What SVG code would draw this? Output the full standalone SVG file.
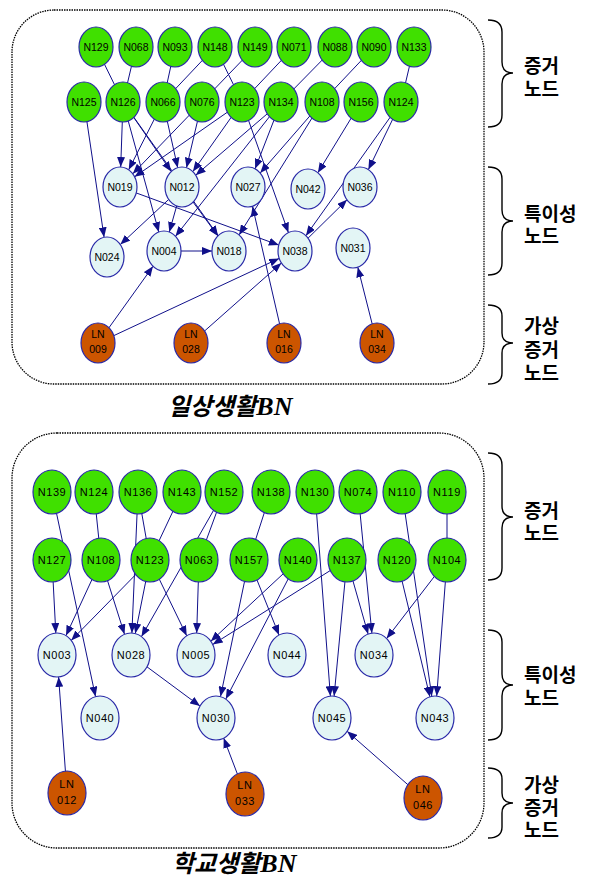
<svg xmlns="http://www.w3.org/2000/svg" width="596" height="881" viewBox="0 0 596 881">
<style>
.panel{fill:none;stroke:#000;stroke-width:1.3;stroke-dasharray:1.5 1}
.ev{fill:#40e000;stroke:#2a2aa8;stroke-width:1.2}
.sp{fill:#e3f5f5;stroke:#2a2aa8;stroke-width:1.2}
.ln{fill:#cc5500;stroke:#2a2aa8;stroke-width:1.2}
.t{font-family:"Liberation Sans",Arial,sans-serif;font-size:10.5px;text-anchor:middle;fill:#000}
.tb{font-family:"Liberation Sans",Arial,sans-serif;font-size:11px;text-anchor:middle;fill:#000;letter-spacing:0.6px}
.e{stroke:#10108a;stroke-width:1;fill:none}
.a{stroke:#10108a;stroke-width:1;fill:none;marker-end:url(#ah)}
.br{fill:none;stroke:#000;stroke-width:1.4}
.lab{font-family:"Liberation Sans","Noto Sans CJK KR",sans-serif;font-weight:bold;font-size:19px;fill:#000}
.title{font-family:"Noto Sans CJK KR",sans-serif;font-weight:bold;font-style:italic;fill:#000}
.bn{font-family:"Liberation Serif",serif;font-weight:bold;font-style:italic}
</style>
<defs>
<marker id="ah" markerUnits="userSpaceOnUse" markerWidth="11" markerHeight="8" refX="10" refY="4" orient="auto">
<path d="M0,0 L10,4 L0,8 z" fill="#10108a"/>
</marker>
</defs>

<rect class="panel" x="12" y="10" width="472" height="374" rx="42" ry="42"/>
<rect class="panel" x="12" y="433" width="472" height="415" rx="45" ry="45"/>

<g id="connectors">
<line class="e" x1="96" y1="47" x2="123" y2="102"/>
<line class="e" x1="136" y1="47" x2="123" y2="102"/>
<line class="e" x1="175" y1="47" x2="163" y2="102"/>
<line class="e" x1="215" y1="47" x2="163" y2="102"/>
<line class="e" x1="215" y1="47" x2="242" y2="102"/>
<line class="e" x1="255" y1="47" x2="202" y2="102"/>
<line class="e" x1="294" y1="47" x2="242" y2="102"/>
<line class="e" x1="335" y1="47" x2="281" y2="102"/>
<line class="e" x1="374" y1="47" x2="322" y2="102"/>
<line class="e" x1="414" y1="47" x2="401" y2="102"/>
<line class="a" x1="84" y1="102" x2="104.1" y2="237.3"/>
<line class="a" x1="123" y1="102" x2="120.7" y2="167"/>
<line class="a" x1="123" y1="102" x2="171.2" y2="171.5"/>
<line class="a" x1="123" y1="102" x2="158.8" y2="232"/>
<line class="a" x1="123" y1="102" x2="218.1" y2="235.7"/>
<line class="a" x1="163" y1="102" x2="128.7" y2="169.8"/>
<line class="a" x1="163" y1="102" x2="177.7" y2="167.7"/>
<line class="a" x1="202" y1="102" x2="132.8" y2="173.8"/>
<line class="a" x1="202" y1="102" x2="186.5" y2="167.7"/>
<line class="a" x1="242" y1="102" x2="134.6" y2="176.8"/>
<line class="a" x1="242" y1="102" x2="192.9" y2="171.6"/>
<line class="a" x1="242" y1="102" x2="288.4" y2="232.6"/>
<line class="a" x1="281" y1="102" x2="195.7" y2="175.2"/>
<line class="a" x1="281" y1="102" x2="255.1" y2="168.8"/>
<line class="a" x1="281" y1="102" x2="175.5" y2="236.3"/>
<line class="a" x1="322" y1="102" x2="260.2" y2="173"/>
<line class="a" x1="322" y1="102" x2="239.1" y2="234.9"/>
<line class="a" x1="361" y1="102" x2="317.9" y2="172.7"/>
<line class="a" x1="401" y1="102" x2="368.4" y2="169.6"/>
<line class="a" x1="401" y1="102" x2="305.9" y2="235.7"/>
<line class="a" x1="295" y1="251" x2="347" y2="199.8"/>
<line class="a" x1="120" y1="187" x2="278.8" y2="245.1"/>
<line class="a" x1="182" y1="187" x2="169.3" y2="232"/>
<line class="a" x1="182" y1="187" x2="120.3" y2="244.6"/>
<line class="a" x1="182" y1="187" x2="217.9" y2="235.9"/>
<line class="a" x1="181" y1="251" x2="212" y2="251"/>
<line class="a" x1="284" y1="343" x2="252.5" y2="206.3"/>
<line class="a" x1="98" y1="343" x2="153" y2="266.3"/>
<line class="a" x1="98" y1="343" x2="279.2" y2="258.4"/>
<line class="a" x1="191" y1="343" x2="281.4" y2="263"/>
<line class="a" x1="377" y1="343" x2="357.8" y2="267.2"/>

<line class="e" x1="94" y1="492" x2="101" y2="560"/>
<line class="e" x1="138" y1="492" x2="150" y2="560"/>
<line class="e" x1="182" y1="492" x2="150" y2="560"/>
<line class="e" x1="224" y1="492" x2="199" y2="560"/>
<line class="e" x1="271" y1="492" x2="249" y2="560"/>
<line class="e" x1="447" y1="492" x2="447" y2="560"/>
<line class="a" x1="52" y1="560" x2="55.8" y2="633"/>
<line class="a" x1="101" y1="560" x2="66" y2="635.6"/>
<line class="a" x1="150" y1="560" x2="71.2" y2="640.4"/>
<line class="a" x1="52" y1="492" x2="95.5" y2="696.6"/>
<line class="a" x1="101" y1="560" x2="124.5" y2="634.3"/>
<line class="a" x1="138" y1="492" x2="131.9" y2="633"/>
<line class="a" x1="150" y1="560" x2="135.3" y2="633.6"/>
<line class="a" x1="224" y1="492" x2="141.5" y2="636.6"/>
<line class="a" x1="199" y1="560" x2="196.7" y2="633"/>
<line class="a" x1="150" y1="560" x2="186.7" y2="635.8"/>
<line class="a" x1="298" y1="560" x2="210.8" y2="641.2"/>
<line class="a" x1="347" y1="560" x2="212.7" y2="644.5"/>
<line class="a" x1="249" y1="560" x2="279" y2="635"/>
<line class="a" x1="249" y1="560" x2="220.5" y2="696.6"/>
<line class="a" x1="298" y1="560" x2="225.8" y2="699.1"/>
<line class="a" x1="131" y1="655" x2="200" y2="706.1"/>
<line class="a" x1="315" y1="492" x2="330.4" y2="696.1"/>
<line class="a" x1="347" y1="560" x2="334.1" y2="696.1"/>
<line class="a" x1="358" y1="492" x2="371.9" y2="633.1"/>
<line class="a" x1="347" y1="560" x2="368.1" y2="634.1"/>
<line class="a" x1="447" y1="560" x2="386.6" y2="638.6"/>
<line class="a" x1="402" y1="492" x2="431.8" y2="696.3"/>
<line class="a" x1="397" y1="560" x2="429.9" y2="696.8"/>
<line class="a" x1="447" y1="560" x2="436.7" y2="696.1"/>
<line class="a" x1="67" y1="793" x2="58.6" y2="676.9"/>
<line class="a" x1="245" y1="794" x2="223.7" y2="738.1"/>
<line class="a" x1="423" y1="798" x2="347.1" y2="731.3"/>
</g>

<g id="N129"><ellipse class="ev" cx="96" cy="47" rx="17" ry="20"/><text class="t" x="96" y="51">N129</text></g>
<g id="N068"><ellipse class="ev" cx="136" cy="47" rx="17" ry="20"/><text class="t" x="136" y="51">N068</text></g>
<g id="N093"><ellipse class="ev" cx="175" cy="47" rx="17" ry="20"/><text class="t" x="175" y="51">N093</text></g>
<g id="N148"><ellipse class="ev" cx="215" cy="47" rx="17" ry="20"/><text class="t" x="215" y="51">N148</text></g>
<g id="N149"><ellipse class="ev" cx="255" cy="47" rx="17" ry="20"/><text class="t" x="255" y="51">N149</text></g>
<g id="N071"><ellipse class="ev" cx="294" cy="47" rx="17" ry="20"/><text class="t" x="294" y="51">N071</text></g>
<g id="N088"><ellipse class="ev" cx="335" cy="47" rx="17" ry="20"/><text class="t" x="335" y="51">N088</text></g>
<g id="N090"><ellipse class="ev" cx="374" cy="47" rx="17" ry="20"/><text class="t" x="374" y="51">N090</text></g>
<g id="N133"><ellipse class="ev" cx="414" cy="47" rx="17" ry="20"/><text class="t" x="414" y="51">N133</text></g>

<g id="N125"><ellipse class="ev" cx="84" cy="102" rx="17" ry="20"/><text class="t" x="84" y="106">N125</text></g>
<g id="N126"><ellipse class="ev" cx="123" cy="102" rx="17" ry="20"/><text class="t" x="123" y="106">N126</text></g>
<g id="N066"><ellipse class="ev" cx="163" cy="102" rx="17" ry="20"/><text class="t" x="163" y="106">N066</text></g>
<g id="N076"><ellipse class="ev" cx="202" cy="102" rx="17" ry="20"/><text class="t" x="202" y="106">N076</text></g>
<g id="N123a"><ellipse class="ev" cx="242" cy="102" rx="17" ry="20"/><text class="t" x="242" y="106">N123</text></g>
<g id="N134"><ellipse class="ev" cx="281" cy="102" rx="17" ry="20"/><text class="t" x="281" y="106">N134</text></g>
<g id="N108a"><ellipse class="ev" cx="322" cy="102" rx="17" ry="20"/><text class="t" x="322" y="106">N108</text></g>
<g id="N156"><ellipse class="ev" cx="361" cy="102" rx="17" ry="20"/><text class="t" x="361" y="106">N156</text></g>
<g id="N124a"><ellipse class="ev" cx="401" cy="102" rx="17" ry="20"/><text class="t" x="401" y="106">N124</text></g>

<g id="N019"><ellipse class="sp" cx="120" cy="187" rx="17" ry="20"/><text class="t" x="120" y="191">N019</text></g>
<g id="N012"><ellipse class="sp" cx="182" cy="187" rx="17" ry="20"/><text class="t" x="182" y="191">N012</text></g>
<g id="N027"><ellipse class="sp" cx="248" cy="187" rx="17" ry="20"/><text class="t" x="248" y="191">N027</text></g>
<g id="N042"><ellipse class="sp" cx="308" cy="189" rx="17" ry="20"/><text class="t" x="308" y="193">N042</text></g>
<g id="N036"><ellipse class="sp" cx="360" cy="187" rx="17" ry="20"/><text class="t" x="360" y="191">N036</text></g>
<g id="N024"><ellipse class="sp" cx="107" cy="257" rx="17" ry="20"/><text class="t" x="107" y="261">N024</text></g>
<g id="N004"><ellipse class="sp" cx="164" cy="251" rx="17" ry="20"/><text class="t" x="164" y="255">N004</text></g>
<g id="N018"><ellipse class="sp" cx="229" cy="251" rx="17" ry="20"/><text class="t" x="229" y="255">N018</text></g>
<g id="N038"><ellipse class="sp" cx="295" cy="251" rx="17" ry="20"/><text class="t" x="295" y="255">N038</text></g>
<g id="N031"><ellipse class="sp" cx="353" cy="248" rx="17" ry="20"/><text class="t" x="353" y="252">N031</text></g>

<g id="LN009"><ellipse class="ln" cx="98" cy="343" rx="17" ry="20"/><text class="t" x="98" y="338">LN</text><text class="t" x="98" y="353">009</text></g>
<g id="LN028"><ellipse class="ln" cx="191" cy="343" rx="17" ry="20"/><text class="t" x="191" y="338">LN</text><text class="t" x="191" y="353">028</text></g>
<g id="LN016"><ellipse class="ln" cx="284" cy="343" rx="17" ry="20"/><text class="t" x="284" y="338">LN</text><text class="t" x="284" y="353">016</text></g>
<g id="LN034"><ellipse class="ln" cx="377" cy="343" rx="17" ry="20"/><text class="t" x="377" y="338">LN</text><text class="t" x="377" y="353">034</text></g>

<g id="N139"><ellipse class="ev" cx="52" cy="492" rx="19" ry="22"/><text class="tb" x="52" y="496">N139</text></g>
<g id="N124b"><ellipse class="ev" cx="94" cy="492" rx="19" ry="22"/><text class="tb" x="94" y="496">N124</text></g>
<g id="N136"><ellipse class="ev" cx="138" cy="492" rx="19" ry="22"/><text class="tb" x="138" y="496">N136</text></g>
<g id="N143"><ellipse class="ev" cx="182" cy="492" rx="19" ry="22"/><text class="tb" x="182" y="496">N143</text></g>
<g id="N152"><ellipse class="ev" cx="224" cy="492" rx="19" ry="22"/><text class="tb" x="224" y="496">N152</text></g>
<g id="N138"><ellipse class="ev" cx="271" cy="492" rx="19" ry="22"/><text class="tb" x="271" y="496">N138</text></g>
<g id="N130"><ellipse class="ev" cx="315" cy="492" rx="19" ry="22"/><text class="tb" x="315" y="496">N130</text></g>
<g id="N074"><ellipse class="ev" cx="358" cy="492" rx="19" ry="22"/><text class="tb" x="358" y="496">N074</text></g>
<g id="N110"><ellipse class="ev" cx="402" cy="492" rx="19" ry="22"/><text class="tb" x="402" y="496">N110</text></g>
<g id="N119"><ellipse class="ev" cx="447" cy="492" rx="19" ry="22"/><text class="tb" x="447" y="496">N119</text></g>

<g id="N127"><ellipse class="ev" cx="52" cy="560" rx="19" ry="22"/><text class="tb" x="52" y="564">N127</text></g>
<g id="N108b"><ellipse class="ev" cx="101" cy="560" rx="19" ry="22"/><text class="tb" x="101" y="564">N108</text></g>
<g id="N123b"><ellipse class="ev" cx="150" cy="560" rx="19" ry="22"/><text class="tb" x="150" y="564">N123</text></g>
<g id="N063"><ellipse class="ev" cx="199" cy="560" rx="19" ry="22"/><text class="tb" x="199" y="564">N063</text></g>
<g id="N157"><ellipse class="ev" cx="249" cy="560" rx="19" ry="22"/><text class="tb" x="249" y="564">N157</text></g>
<g id="N140"><ellipse class="ev" cx="298" cy="560" rx="19" ry="22"/><text class="tb" x="298" y="564">N140</text></g>
<g id="N137"><ellipse class="ev" cx="347" cy="560" rx="19" ry="22"/><text class="tb" x="347" y="564">N137</text></g>
<g id="N120"><ellipse class="ev" cx="397" cy="560" rx="19" ry="22"/><text class="tb" x="397" y="564">N120</text></g>
<g id="N104"><ellipse class="ev" cx="447" cy="560" rx="19" ry="22"/><text class="tb" x="447" y="564">N104</text></g>

<g id="N003"><ellipse class="sp" cx="57" cy="655" rx="19" ry="22"/><text class="tb" x="57" y="659">N003</text></g>
<g id="N028"><ellipse class="sp" cx="131" cy="655" rx="19" ry="22"/><text class="tb" x="131" y="659">N028</text></g>
<g id="N005"><ellipse class="sp" cx="196" cy="655" rx="19" ry="22"/><text class="tb" x="196" y="659">N005</text></g>
<g id="N044"><ellipse class="sp" cx="287" cy="655" rx="19" ry="22"/><text class="tb" x="287" y="659">N044</text></g>
<g id="N034"><ellipse class="sp" cx="374" cy="655" rx="19" ry="22"/><text class="tb" x="374" y="659">N034</text></g>
<g id="N040"><ellipse class="sp" cx="100" cy="718" rx="19" ry="22"/><text class="tb" x="100" y="722">N040</text></g>
<g id="N030"><ellipse class="sp" cx="216" cy="718" rx="19" ry="22"/><text class="tb" x="216" y="722">N030</text></g>
<g id="N045"><ellipse class="sp" cx="332" cy="718" rx="19" ry="22"/><text class="tb" x="332" y="722">N045</text></g>
<g id="N043"><ellipse class="sp" cx="435" cy="718" rx="19" ry="22"/><text class="tb" x="435" y="722">N043</text></g>

<g id="LN012"><ellipse class="ln" cx="67" cy="793" rx="19" ry="22"/><text class="tb" x="67" y="788">LN</text><text class="tb" x="67" y="804">012</text></g>
<g id="LN033"><ellipse class="ln" cx="245" cy="794" rx="19" ry="22"/><text class="tb" x="245" y="789">LN</text><text class="tb" x="245" y="805">033</text></g>
<g id="LN046"><ellipse class="ln" cx="423" cy="798" rx="19" ry="22"/><text class="tb" x="423" y="793">LN</text><text class="tb" x="423" y="809">046</text></g>

<text class="title" x="168" y="415" font-size="24">일상생활<tspan class="bn" font-size="26">BN</tspan></text>
<text class="title" x="172" y="872" font-size="24">학교생활<tspan class="bn" font-size="26">BN</tspan></text>

<path class="br" d="M488,20 Q502,20 502,32 L502,62 Q502,73 513,73 Q502,73 502,84 L502,115 Q502,127 488,127"/>
<path class="br" d="M488,167 Q502,167 502,179 L502,210 Q502,221 513,221 Q502,221 502,232 L502,263 Q502,275 488,275"/>
<path class="br" d="M488,305 Q502,305 502,316 L502,333 Q502,343 513,343 Q502,343 502,353 L502,373 Q502,384 488,384"/>
<path class="br" d="M488,453 Q502,453 502,465 L502,506 Q502,517 513,517 Q502,517 502,528 L502,568 Q502,580 488,580"/>
<path class="br" d="M488,630 Q502,630 502,642 L502,674 Q502,685 513,685 Q502,685 502,696 L502,728 Q502,740 488,740"/>
<path class="br" d="M488,768 Q502,768 502,779 L502,793 Q502,803 513,803 Q502,803 502,813 L502,827 Q502,838 488,838"/>

<text class="lab" x="524" y="73">증거</text>
<text class="lab" x="524" y="96">노드</text>
<text class="lab" x="524" y="221">특이성</text>
<text class="lab" x="524" y="243">노드</text>
<text class="lab" x="524" y="333">가상</text>
<text class="lab" x="524" y="357">증거</text>
<text class="lab" x="524" y="380">노드</text>
<text class="lab" x="524" y="518">증거</text>
<text class="lab" x="524" y="540">노드</text>
<text class="lab" x="524" y="682">특이성</text>
<text class="lab" x="524" y="705">노드</text>
<text class="lab" x="524" y="792">가상</text>
<text class="lab" x="524" y="815">증거</text>
<text class="lab" x="524" y="837">노드</text>
</svg>
